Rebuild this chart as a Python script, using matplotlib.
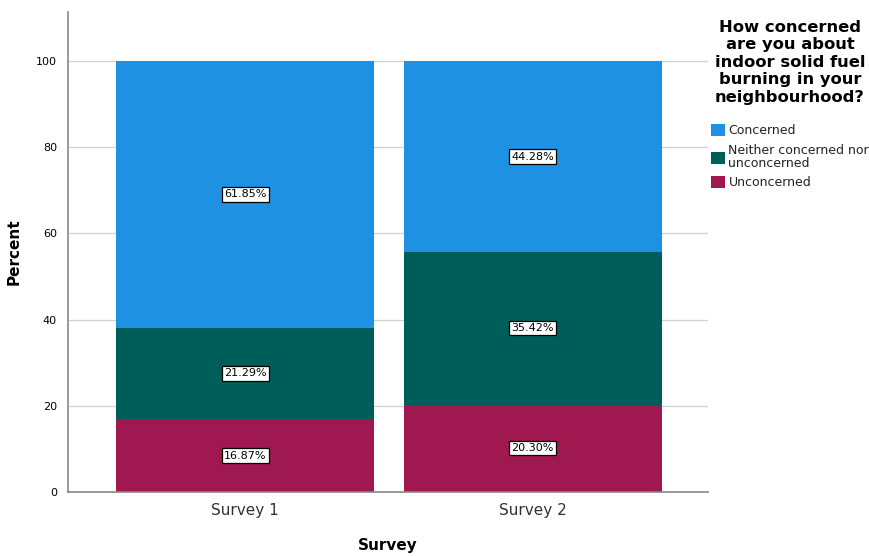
import numpy as np
import matplotlib
matplotlib.use("Agg")
import matplotlib.pyplot as plt
from matplotlib.patches import Patch

# data
surveys = ["Survey 1", "Survey 2"]
unconcerned = [16.87, 20.30]
neither = [21.29, 35.42]
concerned = [61.85, 44.28]

series = [
    ("Unconcerned", unconcerned, "#A01850"),
    ("Neither concerned nor\nunconcerned", neither, "#005E5A"),
    ("Concerned", concerned, "#1E91E3"),
]

fig = plt.figure(figsize=(8.7, 5.56), dpi=100)
ax = fig.add_axes([68 / 870, 1 - 492 / 556, 640 / 870, 480 / 556])

x = np.arange(len(surveys))
bottom = np.zeros(len(surveys))
for name, vals, col in series:
    vals = np.array(vals)
    ax.bar(x, vals, width=0.897, bottom=bottom, color=col, zorder=2)
    for xi, b, v in zip(x, bottom, vals):
        ax.text(xi, b + v / 2, f"{v:.2f}%", ha="center", va="center", fontsize=8,
                color="black", zorder=4,
                bbox=dict(boxstyle="square,pad=0.2", facecolor="white",
                          edgecolor="black", linewidth=0.9))
    bottom += vals

ax.set_xlim(-0.616, 1.61)
ax.set_ylim(0, 111.4)
ax.set_yticks([0, 20, 40, 60, 80, 100])
ax.yaxis.grid(True, color="#d0d0d0", linewidth=0.9, zorder=0)
ax.set_axisbelow(True)
ax.set_xticks(x)
ax.set_xticklabels(surveys, fontsize=11, color="#333333")
ax.tick_params(axis="y", labelsize=8, length=0, pad=8)
ax.tick_params(axis="x", length=0, pad=8)
for s in ["top", "right"]:
    ax.spines[s].set_visible(False)
for s in ["left", "bottom"]:
    ax.spines[s].set_color("#888888")
    ax.spines[s].set_linewidth(1.2)

ax.set_ylabel("Percent", fontsize=11, fontweight="bold", labelpad=10)
ax.set_xlabel("Survey", fontsize=11, fontweight="bold", labelpad=14)

handles = [Patch(facecolor=c, label=n) for n, _, c in reversed(series)]
fig.text(790 / 870, 1 - 20 / 556,
         "How concerned\nare you about\nindoor solid fuel\nburning in your\nneighbourhood?",
         ha="center", va="top", fontsize=11.8, fontweight="bold", linespacing=1.2)
leg = fig.legend(handles=handles, loc="upper left", bbox_to_anchor=(706 / 870, 1 - 119 / 556),
                 frameon=False, fontsize=9, handlelength=1.1, handleheight=1.1,
                 handletextpad=0.3, labelspacing=0.5, borderaxespad=0)
for t in leg.get_texts():
    t.set_linespacing(1.05)
    t.set_color("#222222")

fig.savefig("out.png", dpi=100)
